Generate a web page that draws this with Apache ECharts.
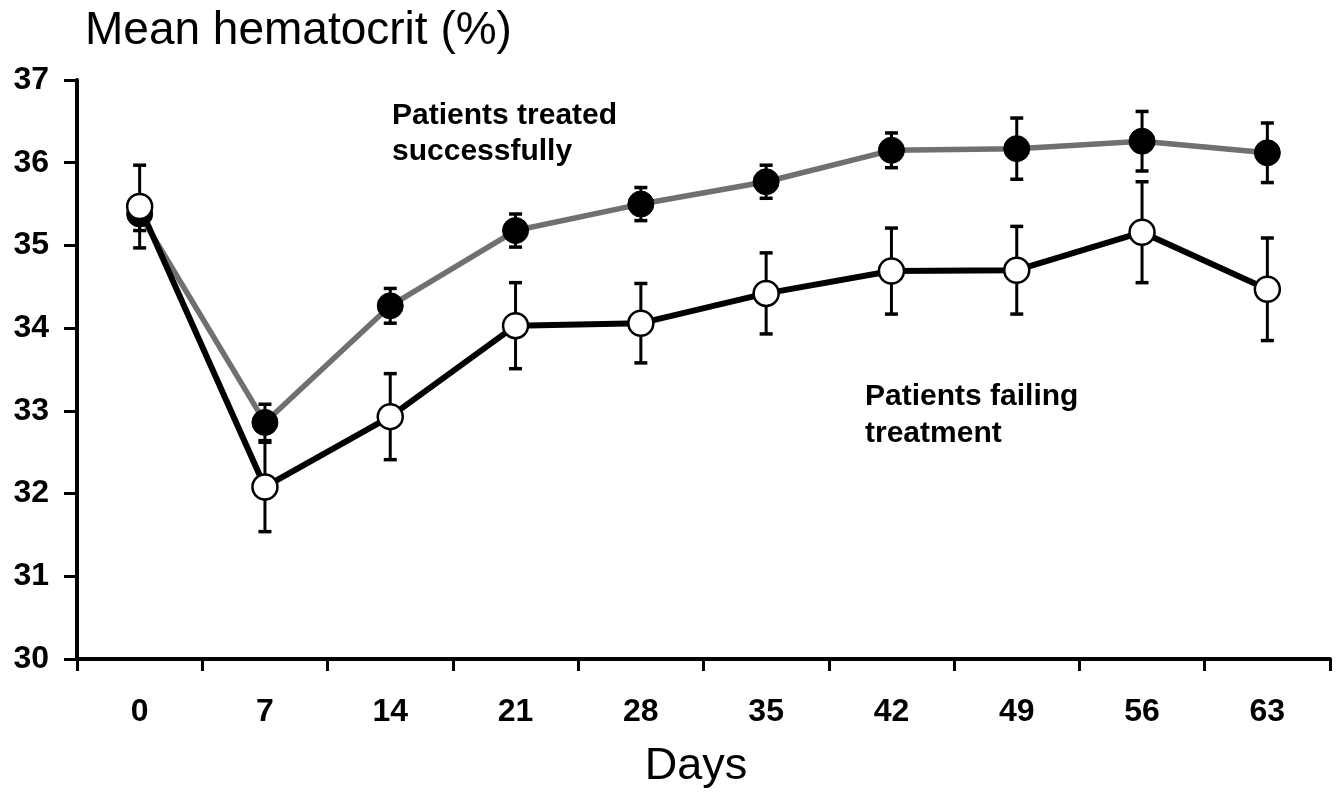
<!DOCTYPE html>
<html>
<head>
<meta charset="utf-8">
<script src="https://cdn.jsdelivr.net/npm/echarts@6/dist/echarts.min.js"></script>
<style>
html,body{margin:0;padding:0;background:#fff;}
#chart{width:1341px;height:795px;}
</style>
</head>
<body>
<div id="chart"></div>
<script>
var days = ['0', '7', '14', '21', '28', '35', '42', '49', '56', '63'];
var yTicks = [30, 31, 32, 33, 34, 35, 36, 37];
var success = [35.38, 32.86, 34.27, 35.18, 35.50, 35.77, 36.15, 36.17, 36.26, 36.12];
var successErr = [0.20, 0.22, 0.21, 0.20, 0.20, 0.20, 0.21, 0.37, 0.36, 0.36];
var fail = [35.47, 32.08, 32.93, 34.03, 34.06, 34.42, 34.69, 34.70, 35.16, 34.47];
var failErr = [0.50, 0.54, 0.52, 0.52, 0.48, 0.49, 0.52, 0.53, 0.61, 0.62];

var FONT = '"Liberation Sans", Arial, Helvetica, sans-serif';

function errData(means, errs) {
  return means.map(function (m, i) { return [i, m - errs[i], m + errs[i]]; });
}
function renderErr(params, api) {
  var x = api.value(0);
  var lo = api.coord([x, api.value(1)]);
  var hi = api.coord([x, api.value(2)]);
  var hw = 6.5;
  var st = { stroke: '#000', lineWidth: 3 };
  return {
    type: 'group',
    children: [
      { type: 'line', shape: { x1: hi[0], y1: hi[1], x2: lo[0], y2: lo[1] }, style: st },
      { type: 'line', shape: { x1: hi[0] - hw, y1: hi[1], x2: hi[0] + hw, y2: hi[1] }, style: { stroke: '#000', lineWidth: 3.5 } },
      { type: 'line', shape: { x1: lo[0] - hw, y1: lo[1], x2: lo[0] + hw, y2: lo[1] }, style: { stroke: '#000', lineWidth: 3.5 } }
    ]
  };
}

var chart = echarts.init(document.getElementById('chart'));
chart.setOption({
  animation: false,
  backgroundColor: '#fff',
  grid: { left: 77, right: 11, top: 80, bottom: 136, containLabel: false },
  xAxis: {
    type: 'category',
    data: days,
    boundaryGap: true,
    axisLine: { lineStyle: { color: '#000', width: 4 } },
    axisTick: { show: true, interval: 0, length: 12, lineStyle: { color: '#000', width: 3 } },
    axisLabel: { interval: 0, margin: 37, color: '#000', fontSize: 32, fontWeight: 'bold', fontFamily: FONT },
    splitLine: { show: false }
  },
  yAxis: {
    type: 'value',
    min: yTicks[0],
    max: yTicks[yTicks.length - 1],
    interval: 1,
    axisLine: { show: true, lineStyle: { color: '#000', width: 4 } },
    axisTick: { show: true, length: 13, lineStyle: { color: '#000', width: 3 } },
    axisLabel: { margin: 28, color: '#000', fontSize: 32, fontWeight: 'bold', fontFamily: FONT },
    splitLine: { show: false }
  },
  graphic: [
    { type: 'text', style: { text: 'Mean hematocrit (%)', x: 85, y: 31, fill: '#000', font: '46px ' + FONT, verticalAlign: 'middle', align: 'left' } },
    { type: 'text', style: { text: 'Days', x: 696, y: 767, fill: '#000', font: '45px ' + FONT, verticalAlign: 'middle', align: 'center' } },
    { type: 'text', style: { text: 'Patients treated\nsuccessfully', x: 392, y: 98, fill: '#000', font: 'bold 30px ' + FONT, lineHeight: 36, verticalAlign: 'top', align: 'left' } },
    { type: 'text', style: { text: 'Patients failing\ntreatment', x: 865, y: 378, fill: '#000', font: 'bold 30px ' + FONT, lineHeight: 37, verticalAlign: 'top', align: 'left' } }
  ],
  series: [
    {
      type: 'custom', name: 'successErr', z: 2,
      renderItem: renderErr, data: errData(success, successErr),
      encode: { x: 0, y: [1, 2] }
    },
    {
      type: 'custom', name: 'failErr', z: 2,
      renderItem: renderErr, data: errData(fail, failErr),
      encode: { x: 0, y: [1, 2] }
    },
    {
      type: 'line', name: 'Patients treated successfully', z: 3,
      data: success,
      symbol: 'circle', symbolSize: 26,
      lineStyle: { color: '#707070', width: 5.5 },
      itemStyle: { color: '#000', borderColor: '#000', borderWidth: 1 }
    },
    {
      type: 'line', name: 'Patients failing treatment', z: 4,
      data: fail,
      symbol: 'circle', symbolSize: 25,
      lineStyle: { color: '#000', width: 6 },
      itemStyle: { color: '#fff', borderColor: '#000', borderWidth: 2.5 }
    }
  ]
});
</script>
</body>
</html>
